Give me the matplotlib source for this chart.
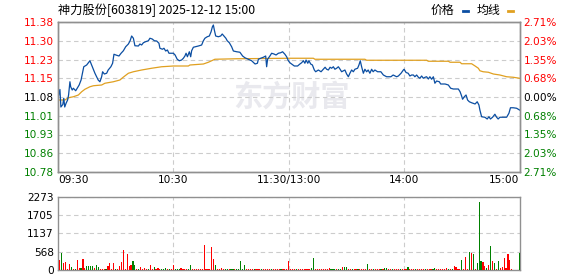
import numpy as np
import matplotlib
matplotlib.use("Agg")
import matplotlib.pyplot as plt

plt.rcParams['font.family'] = ['DejaVu Sans', 'Noto Sans CJK SC']

# 分时数据 (minutes from 09:30, trading minutes only)
price_min = [0, 1, 1.5, 2.5, 3, 3.5, 4.2, 5, 5.5, 6.2, 6.6, 7.4, 8, 9.2, 10, 11, 12, 12.7, 13.4,
             14.9, 15.8, 16.6, 17.5, 18.4, 19.2, 20.1, 20.9, 21.8, 22.7, 23.2, 24.1, 25.3, 26.1,
             27.5, 28.4, 29.1, 30.1, 31.7, 32.8, 34.0, 35.2, 36.6, 37.5, 38.3, 39.2, 40.0, 41.8,
             42.6, 43.5, 44.4, 45.5, 47.0, 47.8, 49.0, 50.1, 51.3, 52.5, 53.0, 54.3, 55.1, 56.0,
             56.9, 57.7, 60.0, 60.9, 62.0, 63.1, 64.3, 65.2, 66.0, 66.6, 67.3, 68.3, 69.0, 69.5,
             70.4, 73.0, 74.7, 75.6, 76.4, 77.6, 78.7, 79.6, 80.3, 80.8, 81.3, 82.0, 83.4, 84.6,
             85.4, 86.3, 87.3, 88.0, 89.1, 90.3, 91.2, 92.9, 94.6, 96.0, 97.2, 99.0, 100.7, 102.5,
             103.7, 104.2, 105.4, 106.8, 108.0, 108.5, 109.0, 110.2, 111.1, 112.3, 113.4, 114.6,
             115.8, 116.8, 118.0, 118.9, 119.8, 120.6, 121.5, 122.9, 124.6, 125.8, 126.7, 127.6,
             128.4, 129.0, 129.9, 130.5, 131.4, 132.3, 133.3, 134.0, 135.4, 136.8, 138.0, 138.9,
             139.7, 140.6, 141.5, 142.3, 143.2, 144.0, 144.9, 145.8, 146.7, 147.5, 149.2, 150.1,
             151.0, 151.8, 152.7, 153.6, 154.4, 155.8, 156.5, 157.2, 157.9, 158.8, 159.6, 160.5,
             161.3, 162.2, 163.1, 163.9, 164.8, 166.2, 167.9, 169.2, 170.9, 173.1, 174.3, 176.1,
             177.0, 178.4, 179.6, 180.0, 181.0, 182.1, 183.0, 183.9, 184.8, 185.6, 186.5, 187.4,
             188.2, 189.1, 190.0, 190.9, 191.7, 192.6, 193.4, 194.3, 195.2, 196.0, 196.9, 198.3,
             199.0, 201.3, 203.0, 204.2, 205.6, 208.2, 209.1, 209.9, 210.4, 211.3, 212.2, 213.0,
             213.9, 215.1, 216.9, 218.0, 218.9, 219.4, 220.3, 222.0, 223.2, 224.1, 224.9, 226.0,
             227.2, 228.1, 228.9, 229.8, 231.5, 233.3, 234.5, 235.3, 236.7, 238.5, 240]
price_val = [11.075, 11.11, 11.04, 11.05, 11.075, 11.04, 11.055, 11.068, 11.088, 11.141, 11.121,
             11.108, 11.115, 11.105, 11.115, 11.128, 11.148, 11.175, 11.201, 11.208, 11.217,
             11.225, 11.208, 11.191, 11.175, 11.161, 11.148, 11.141, 11.161, 11.181, 11.172,
             11.175, 11.188, 11.201, 11.215, 11.251, 11.248, 11.244, 11.255, 11.265, 11.281,
             11.292, 11.305, 11.324, 11.315, 11.285, 11.284, 11.292, 11.288, 11.297, 11.301,
             11.305, 11.315, 11.312, 11.305, 11.304, 11.295, 11.275, 11.271, 11.275, 11.264,
             11.268, 11.255, 11.255, 11.248, 11.231, 11.225, 11.228, 11.235, 11.244, 11.255,
             11.241, 11.261, 11.241, 11.265, 11.279, 11.284, 11.288, 11.305, 11.315, 11.321,
             11.324, 11.341, 11.361, 11.368, 11.348, 11.324, 11.321, 11.324, 11.332, 11.324,
             11.315, 11.305, 11.297, 11.281, 11.264, 11.261, 11.259, 11.244, 11.237, 11.231,
             11.225, 11.212, 11.215, 11.231, 11.235, 11.239, 11.244, 11.201, 11.231, 11.244,
             11.255, 11.252, 11.248, 11.255, 11.257, 11.261, 11.251, 11.241, 11.225, 11.217,
             11.212, 11.204, 11.204, 11.212, 11.217, 11.225, 11.215, 11.228, 11.215, 11.225,
             11.212, 11.208, 11.188, 11.181, 11.188, 11.181, 11.191, 11.199, 11.191, 11.188,
             11.199, 11.195, 11.201, 11.191, 11.195, 11.201, 11.191, 11.181, 11.188, 11.172,
             11.161, 11.175, 11.188, 11.181, 11.191, 11.195, 11.208, 11.225, 11.201, 11.175,
             11.191, 11.181, 11.188, 11.175, 11.191, 11.181, 11.188, 11.181, 11.181, 11.168,
             11.161, 11.161, 11.168, 11.161, 11.164, 11.175, 11.188, 11.191, 11.178, 11.175,
             11.164, 11.168, 11.168, 11.161, 11.168, 11.159, 11.155, 11.164, 11.155, 11.159,
             11.161, 11.152, 11.161, 11.151, 11.161, 11.135, 11.144, 11.141, 11.132, 11.132,
             11.128, 11.115, 11.112, 11.112, 11.101, 11.084, 11.071, 11.081, 11.088, 11.068,
             11.061, 11.057, 11.052, 11.061, 11.048, 11.028, 11.001, 10.999, 10.992, 11.001,
             10.992, 10.999, 11.011, 10.999, 10.992, 10.999, 10.999, 10.999, 11.015, 11.037,
             11.037, 11.035, 11.028]

avg_min = [0, 3.6, 5.4, 8.0, 10.6, 12.3, 14.0, 16.6, 18.4, 22.7, 24.4, 28.8, 32.2, 33.9, 36.6,
           39.2, 43.5, 48.7, 53.9, 60.0, 67.8, 68.6, 75.6, 78.2, 79.9, 81.6, 92.9, 120.6, 132.8,
           133.6, 159.6, 160.5, 191.7, 192.6, 203.0, 203.9, 209.1, 209.9, 215.1, 216.9, 218.6,
           219.4, 221.1, 223.8, 226.4, 229.8, 233.3, 236.7, 240]
avg_val = [11.068, 11.068, 11.077, 11.081, 11.088, 11.101, 11.111, 11.121, 11.125, 11.128,
           11.135, 11.141, 11.148, 11.159, 11.175, 11.181, 11.188, 11.195, 11.201, 11.204,
           11.204, 11.208, 11.212, 11.219, 11.225, 11.231, 11.233, 11.235, 11.235, 11.231,
           11.231, 11.227, 11.227, 11.223, 11.223, 11.219, 11.219, 11.213, 11.213, 11.204,
           11.195, 11.185, 11.181, 11.179, 11.172, 11.168, 11.161, 11.159, 11.155]

volume = [0, 311, 518, 207, 238, 31, 176, 104, 31, 31,
          311, 73, 62, 342, 52, 124, 124, 124, 124, 73,
          155, 83, 31, 31, 31, 31, 124, 218, 31, 218,
          31, 31, 124, 249, 622, 31, 498, 124, 155, 280,
          155, 31, 31, 104, 31, 73, 31, 31, 155, 31,
          93, 31, 62, 31, 31, 31, 52, 31, 31, 31,
          155, 31, 31, 31, 62, 31, 31, 31, 31, 155,
          31, 31, 31, 31, 31, 31, 778, 31, 31, 31,
          716, 342, 155, 31, 31, 52, 31, 31, 31, 31,
          31, 31, 31, 31, 31, 279, 31, 155, 31, 31,
          31, 31, 31, 31, 31, 31, 31, 31, 31, 31,
          31, 31, 31, 31, 31, 31, 31, 31, 31, 31,
          279, 31, 31, 31, 31, 31, 31, 31, 31, 31,
          31, 31, 62, 362, 31, 31, 31, 31, 31, 31,
          31, 52, 31, 31, 31, 31, 31, 31, 93, 93,
          93, 31, 31, 31, 31, 31, 31, 31, 31, 31,
          31, 186, 31, 31, 31, 31, 31, 31, 31, 31,
          73, 52, 31, 31, 31, 31, 31, 31, 31, 31,
          31, 31, 104, 31, 31, 31, 31, 31, 31, 31,
          31, 31, 31, 31, 31, 31, 52, 31, 31, 31,
          31, 31, 52, 31, 31, 31, 124, 93, 31, 31,
          311, 31, 415, 31, 570, 539, 487, 31, 228, 2126,
          280, 259, 135, 52, 166, 757, 280, 228, 31, 280,
          52, 104, 384, 52, 498, 311, 31, 0, 0, 0,
          539]
vol_dir = ("rrgrrrrgrg" "rrgrrggggr" "ggrrrgrrrr" "grrrrrrrrg" "grgrrrrgrr"
           "grrrgggrgr" "rgggrrrrgg" "rrrrrrrrrr" "rrgrrrrggr" "ggrgggggrr"
           "rrgrrrgrrr" "rgrrrrgrrr" "rrrrgrrrrr" "rrggrrrrrr" "rrgggrggrg"
           "grrgrrgrrr" "rgrrgrrrgr" "ggrrgrrrgr" "rrgrrrgrrr" "rgrrrggrrr"
           "rrrgrgrrrr" "grrrgrgrgg" "grrgrgrgrg" "rrrrrrrrrr" "g")

prev_close = 11.08
price_ticks = [11.38, 11.30, 11.23, 11.15, 11.08, 11.01, 10.93, 10.86, 10.78]
pct_labels = ["2.71%", "2.03%", "1.35%", "0.68%", "0.00%", "0.68%", "1.35%", "2.03%", "2.71%"]
vol_ticks = [0, 568, 1137, 1705, 2273]
time_labels = ["09:30", "10:30", "11:30/13:00", "14:00", "15:00"]

RED = '#ff0000'
GREEN = '#008000'
BORDER = '#909090'
GRID = '#cccccc'

fig = plt.figure(figsize=(5.78, 2.76), dpi=100)
ax = fig.add_axes([58 / 578, 104 / 276, 461.5 / 578, 150 / 276])
axv = fig.add_axes([58 / 578, 6 / 276, 461.5 / 578, 73 / 276])

# 价格 / 均线
ax.plot(avg_min, avg_val, color='#e0a020', lw=0.9, zorder=3)
ax.plot(price_min, price_val, color='#0b4ea2', lw=0.9, zorder=4)
ax.set_xlim(0, 240)
ax.set_ylim(10.78, 11.38)

ypos = np.linspace(11.38, 10.78, 9)
ax.set_yticks(ypos)
ax.set_yticklabels(["%.2f" % v for v in price_ticks])
for i, lab in enumerate(ax.get_yticklabels()):
    lab.set_color(RED if i < 4 else ('black' if i == 4 else GREEN))
ax.set_xticks([0, 60, 120, 180, 240])
ax.set_xticklabels(time_labels)
xl = ax.get_xticklabels()
xl[0].set_ha('left')
xl[-1].set_ha('right')
ax.tick_params(length=0, labelsize=7.6, pad=3)
ax.tick_params(axis='x', pad=2)
ax.grid(True, color=GRID, ls=(0, (4, 3)), lw=0.8)

ax2 = ax.twinx()
ax2.set_ylim(10.78, 11.38)
ax2.set_yticks(ypos)
ax2.set_yticklabels(pct_labels)
for i, lab in enumerate(ax2.get_yticklabels()):
    lab.set_color(RED if i < 4 else ('black' if i == 4 else GREEN))
ax2.tick_params(length=0, labelsize=7.6, pad=3)

for a in (ax, ax2, axv):
    for s in a.spines.values():
        s.set_color(BORDER)
        s.set_linewidth(1.0)

# 水印
ax.text(0.505, 0.5, "东方财富", transform=ax.transAxes, fontsize=21, color='#e9e9ee',
        fontweight='bold', ha='center', va='center', family=['Noto Sans CJK SC'], zorder=1)

# 成交量
cols = [RED if c == 'r' else GREEN for c in vol_dir]
axv.bar(range(len(volume)), volume, width=0.6, color=cols, zorder=3)
axv.set_xlim(0, 240)
axv.set_ylim(0, 2273)
axv.set_yticks(vol_ticks)
axv.set_xticks([60, 120, 180])
axv.set_xticklabels([])
axv.tick_params(length=0, labelsize=7.6, pad=3)
axv.grid(True, color=GRID, ls=(0, (4, 3)), lw=0.8)

# 标题与图例
fig.text(58 / 578, 1 - 10 / 276, "神力股份[603819] 2025-12-12 15:00", fontsize=8.8,
         va='center', ha='left', family=['Noto Sans CJK SC', 'DejaVu Sans'])
fig.text(431 / 578, 1 - 10 / 276, "价格", fontsize=8.6, va='center', ha='left',
         family=['Noto Sans CJK SC'])
fig.add_artist(plt.Line2D([463 / 578, 468 / 578], [1 - 11 / 276, 1 - 11 / 276],
                          color='#0b4ea2', lw=2))
fig.text(477 / 578, 1 - 10 / 276, "均线", fontsize=8.6, va='center', ha='left',
         family=['Noto Sans CJK SC'])
fig.add_artist(plt.Line2D([508 / 578, 513 / 578], [1 - 11 / 276, 1 - 11 / 276],
                          color='#e0a020', lw=2))

fig.savefig("out.png", dpi=100)
